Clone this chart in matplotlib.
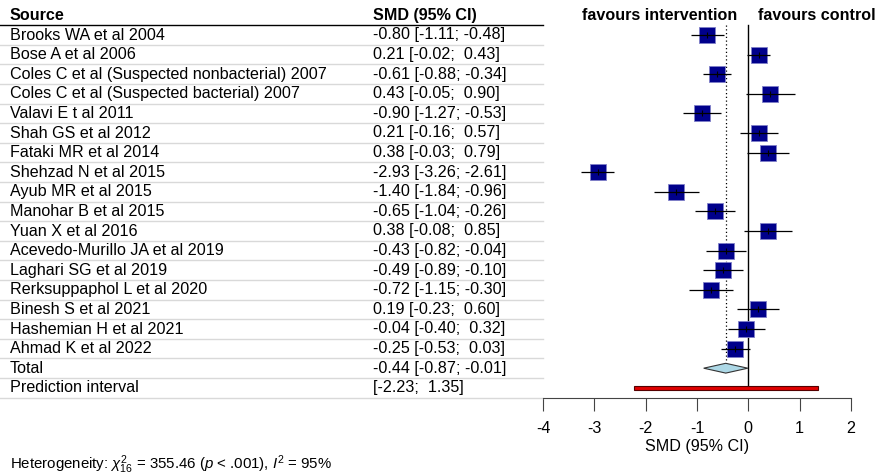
import numpy as np
import matplotlib
matplotlib.use("Agg")
import matplotlib.pyplot as plt
import matplotlib.transforms as mtransforms

plt.rcParams['font.family'] = ['Liberation Sans', 'DejaVu Sans']
plt.rcParams['mathtext.fontset'] = 'custom'
plt.rcParams['mathtext.rm'] = 'Liberation Sans'
plt.rcParams['mathtext.it'] = 'Liberation Sans:italic'

# estudos e valores (SMD, IC 95%)
estudos = [
    'Brooks WA et al 2004', 'Bose A et al 2006',
    'Coles C et al (Suspected nonbacterial) 2007',
    'Coles C et al (Suspected bacterial) 2007', 'Valavi E t al 2011',
    'Shah GS et al 2012', 'Fataki MR et al 2014', 'Shehzad N et al 2015',
    'Ayub MR et al 2015', 'Manohar B et al 2015', 'Yuan X et al 2016',
    'Acevedo-Murillo JA et al 2019', 'Laghari SG et al 2019',
    'Rerksuppaphol L et al 2020', 'Binesh S et al 2021',
    'Hashemian H et al 2021', 'Ahmad K et al 2022',
]
smd = [-0.80, 0.21, -0.61, 0.43, -0.90, 0.21, 0.38, -2.93, -1.40, -0.65,
       0.38, -0.43, -0.49, -0.72, 0.19, -0.04, -0.25]
ic_inf = [-1.11, -0.02, -0.88, -0.05, -1.27, -0.16, -0.03, -3.26, -1.84,
          -1.04, -0.08, -0.82, -0.89, -1.15, -0.23, -0.40, -0.53]
ic_sup = [-0.48, 0.43, -0.34, 0.90, -0.53, 0.57, 0.79, -2.61, -0.96, -0.26,
          0.85, -0.04, -0.10, -0.30, 0.60, 0.32, 0.03]
total = (-0.44, -0.87, -0.01)
predicao = (-2.23, 1.35)
eixo_ticks = [-4, -3, -2, -1, 0, 1, 2]

W, H = 878, 475
fig = plt.figure(figsize=(W / 100, H / 100), dpi=100)

n = len(estudos)
linha_total = n
linha_pred = n + 1
fs = 11.6

# eixo do forest plot (em pixels da figura)
x0, x1 = 543, 851
y_top, y_bot = 25.2, 397.6
ax = fig.add_axes([x0 / W, 1 - y_bot / H, (x1 - x0) / W, (y_bot - y_top) / H])
ax.set_xlim(eixo_ticks[0], eixo_ticks[-1])
ax.set_ylim(linha_pred + 0.5, -0.5)
for s in ['top', 'right', 'left']:
    ax.spines[s].set_visible(False)
ax.spines['bottom'].set_color('#444444')
ax.set_yticks([])
ax.set_xticks(eixo_ticks)
ax.set_xticklabels([str(t) for t in eixo_ticks], fontsize=fs)
ax.tick_params(axis='x', length=9, color='#444444', pad=8)
ax.set_xlabel('SMD (95% CI)', fontsize=fs, labelpad=2)

# texto das colunas: x em fração da figura, y em linhas
trans = mtransforms.blended_transform_factory(fig.transFigure, ax.transData)
fig.text(10 / W, -1, 'Source', transform=trans, fontsize=fs, fontweight='bold', va='center')
fig.text(373 / W, -1, 'SMD (95% CI)', transform=trans, fontsize=fs, fontweight='bold', va='center')

for i, nome in enumerate(estudos):
    fig.text(10 / W, i, nome, transform=trans, fontsize=fs, va='center')
    fig.text(373 / W, i, f'{smd[i]:.2f} [{ic_inf[i]:.2f}; {ic_sup[i]:5.2f}]',
             transform=trans, fontsize=fs, va='center')
fig.text(10 / W, linha_total, 'Total', transform=trans, fontsize=fs, va='center')
fig.text(373 / W, linha_total, f'{total[0]:.2f} [{total[1]:.2f}; {total[2]:5.2f}]',
         transform=trans, fontsize=fs, va='center')
fig.text(10 / W, linha_pred, 'Prediction interval', transform=trans, fontsize=fs, va='center')
fig.text(373 / W, linha_pred, f'[{predicao[0]:.2f}; {predicao[1]:5.2f}]',
         transform=trans, fontsize=fs, va='center')

# linhas separadoras
for k in range(-1, linha_pred + 1):
    cor = 'black' if k == -1 else '#d9d9d9'
    ax.plot([0, x0 / W], [k + 0.5, k + 0.5], transform=trans, color=cor,
            lw=1, clip_on=False)

# linhas de referência
ax.plot([0, 0], [-0.5, linha_pred], color='black', lw=1, zorder=1, clip_on=False)
ax.plot([total[0], total[0]], [-0.5, linha_total - 0.25], color='black', lw=0.9,
        ls=(0, (1, 2)), zorder=1, clip_on=False)

# estudos
y = np.arange(n)
ax.plot(smd, y, 's', color='#00008B', markersize=12, markeredgecolor='#8080c8',
        markeredgewidth=0.6, zorder=2, clip_on=False)
ax.hlines(y, ic_inf, ic_sup, color='black', lw=0.9, zorder=3, clip_on=False)
ax.plot(smd, y, '|', color='black', markersize=4, mew=0.8, zorder=4, clip_on=False)

# diamante do total
est, lo, hi = total
ax.fill([lo, est, hi, est], [linha_total, linha_total - 0.25, linha_total, linha_total + 0.25],
        facecolor='#ADD8E6', edgecolor='#333333', lw=0.8, zorder=3)

# intervalo de predição
ax.fill([predicao[0], predicao[1], predicao[1], predicao[0]],
        [linha_pred - 0.1, linha_pred - 0.1, linha_pred + 0.1, linha_pred + 0.1],
        facecolor='#E00000', edgecolor='#550000', lw=0.8, zorder=3)

# rótulos favours
ax.text(-0.22, -1, 'favours intervention', fontsize=fs, fontweight='bold',
        ha='right', va='center', clip_on=False)
ax.text(0.19, -1, 'favours control', fontsize=fs, fontweight='bold',
        ha='left', va='center', clip_on=False)

fig.text(10 / W, 1 - 465 / H,
         r'Heterogeneity: $\chi^2_{16}$ = 355.46 ($p$ < .001), $I^2$ = 95%',
         fontsize=10.8, va='center')

fig.savefig('out.png', dpi=100)
